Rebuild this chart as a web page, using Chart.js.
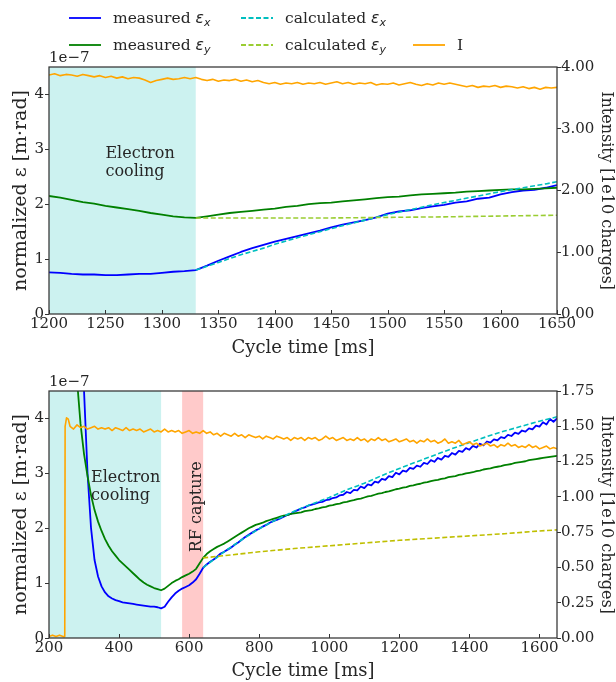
<!DOCTYPE html>
<html><head><meta charset="utf-8">
<script src="https://cdn.jsdelivr.net/npm/chart.js@4/dist/chart.umd.min.js"></script>
<style>
html,body{margin:0;padding:0;background:#fff;}
#wrap{position:relative;width:616px;height:682px;overflow:hidden;font-family:"DejaVu Serif",serif;color:#262626;}
#c1{position:absolute;left:0;top:0;}
#c2{position:absolute;left:0;top:360px;}
.lg{position:absolute;height:22px;display:flex;align-items:center;font-size:15.5px;white-space:nowrap;}
.lg svg{margin-right:12px;flex:none;}
.m{font-family:"DejaVu Sans",sans-serif;font-style:italic;}
.m sub{font-size:11px;line-height:0;vertical-align:-3px;}
</style>
</head><body>
<div id="wrap">
  <canvas id="c1" width="616" height="360"></canvas>
  <canvas id="c2" width="616" height="322"></canvas>
  <div id="legend"></div>
</div>
<script>
// ---------------- DATA ----------------
// Top panel (emittance in units of 1e-7 m·rad, intensity in 1e10 charges)
const topXTicks = [1200,1250,1300,1350,1400,1450,1500,1550,1600,1650];
const topXTickLabels = ['1200','1250','1300','1350','1400','1450','1500','1550','1600','1650'];
const topYTicks = [0,1,2,3,4];
const topYTickLabels = ['0','1','2','3','4'];
const topY2Ticks = [0,1,2,3,4];
const topY2TickLabels = ['0.00','1.00','2.00','3.00','4.00'];
const topCooling = [1200, 1330];

// measured, sampled every 10 ms from 1200 ms
const topMeasStart = 1200, topMeasStep = 10;
const topMeasX = [0.76,0.75,0.73,0.72,0.72,0.71,0.71,0.72,0.73,0.73,0.75,0.77,0.78,0.80,0.88,0.97,1.05,1.13,1.20,1.26,1.32,1.37,1.42,1.47,1.52,1.58,1.63,1.67,1.71,1.76,1.83,1.87,1.89,1.93,1.96,1.99,2.03,2.05,2.10,2.12,2.18,2.22,2.25,2.26,2.30,2.35];
const topMeasY = [2.15,2.12,2.08,2.04,2.01,1.97,1.94,1.91,1.88,1.84,1.81,1.78,1.76,1.75,1.78,1.81,1.84,1.86,1.88,1.90,1.92,1.95,1.97,2.00,2.02,2.03,2.05,2.07,2.09,2.11,2.13,2.14,2.16,2.18,2.19,2.20,2.21,2.23,2.24,2.25,2.26,2.27,2.27,2.28,2.29,2.30];
const topCalcXT = [1330,1340,1350,1360,1370,1380,1390,1400,1420,1440,1460,1480,1500,1520,1540,1560,1580,1600,1620,1640,1650];
const topCalcX  = [0.80,0.87,0.94,1.01,1.08,1.14,1.20,1.27,1.39,1.50,1.61,1.71,1.81,1.90,1.99,2.07,2.15,2.23,2.30,2.37,2.41];
const topCalcYT = [1330,1450,1550,1650];
const topCalcY  = [1.75,1.75,1.77,1.80];
// intensity, every 5 ms from 1200 ms
const topIStart = 1200, topIStep = 5;
const topI = [3.87,3.89,3.86,3.88,3.87,3.85,3.88,3.86,3.84,3.86,3.83,3.85,3.82,3.84,3.81,3.83,3.82,3.79,3.75,3.78,
  3.80,3.82,3.80,3.81,3.83,3.81,3.83,3.80,3.78,3.80,3.77,3.79,3.78,3.80,3.77,3.79,3.76,3.78,3.75,3.73,
  3.75,3.72,3.74,3.73,3.75,3.72,3.74,3.73,3.75,3.72,3.74,3.76,3.73,3.75,3.72,3.74,3.73,3.75,3.71,3.73,
  3.72,3.74,3.71,3.73,3.75,3.72,3.70,3.73,3.71,3.74,3.72,3.74,3.72,3.70,3.68,3.70,3.67,3.69,3.68,3.70,
  3.67,3.69,3.68,3.66,3.68,3.65,3.67,3.64,3.67,3.66,3.67];

// Bottom panel
const botXTicks = [200,400,600,800,1000,1200,1400,1600];
const botXTickLabels = ['200','400','600','800','1000','1200','1400','1600'];
const botYTicks = [0,1,2,3,4];
const botYTickLabels = ['0','1','2','3','4'];
const botY2Ticks = [0,0.25,0.5,0.75,1,1.25,1.5,1.75];
const botY2TickLabels = ['0.00','0.25','0.50','0.75','1.00','1.25','1.50','1.75'];
const botCooling = [200, 520];
const botRF = [580, 640];

const botMeasXStart = 290, botMeasStep = 10;
const botMeasX = [5.6,4.5,3.0,2.0,1.42,1.12,0.94,0.83,0.76,0.72,
  0.69,0.67,0.65,0.64,0.63,0.62,0.61,0.60,0.59,0.58,
  0.57,0.57,0.56,0.54,0.57,0.66,0.74,0.81,0.86,0.90,
  0.93,0.96,1.01,1.07,1.17,1.28,1.34,1.39,1.43,1.48,
  1.54,1.57,1.61,1.65,1.70,1.74,1.79,1.84,1.88,1.92,
  1.96,1.99,2.03,2.06,2.10,2.13,2.15,2.18,2.21,2.24,
  2.26,2.30,2.33,2.36,2.38,2.41,2.43,2.45,2.47,2.48,
  2.51,2.52,2.55,2.56,2.60,2.61,2.66,2.64,2.70,2.69,
  2.76,2.73,2.80,2.78,2.85,2.83,2.90,2.88,2.95,2.93,
  3.01,2.98,3.05,3.03,3.10,3.08,3.14,3.12,3.19,3.17,
  3.24,3.21,3.28,3.25,3.32,3.30,3.37,3.34,3.41,3.39,
  3.46,3.43,3.50,3.47,3.54,3.51,3.58,3.56,3.62,3.60,
  3.66,3.64,3.70,3.68,3.74,3.72,3.78,3.76,3.82,3.80,
  3.87,3.85,3.93,3.89,3.99,3.94,4.00];
const botMeasYStart = 280;
const botMeasY = [4.7,3.9,3.35,2.95,2.6,2.33,2.12,1.95,1.80,1.68,
  1.58,1.50,1.42,1.36,1.30,1.24,1.18,1.12,1.06,1.01,
  0.97,0.94,0.91,0.89,0.87,0.90,0.95,1.00,1.04,1.07,
  1.11,1.14,1.17,1.21,1.26,1.36,1.46,1.53,1.58,1.62,
  1.66,1.69,1.72,1.76,1.80,1.84,1.88,1.92,1.96,2.00,
  2.03,2.06,2.08,2.10,2.13,2.15,2.17,2.19,2.21,2.23,
  2.24,2.26,2.27,2.28,2.29,2.31,2.32,2.33,2.35,2.36,
  2.38,2.39,2.41,2.42,2.44,2.45,2.47,2.48,2.50,2.51,
  2.53,2.54,2.56,2.58,2.59,2.61,2.63,2.64,2.66,2.67,
  2.69,2.71,2.72,2.74,2.75,2.77,2.78,2.80,2.81,2.83,
  2.84,2.86,2.87,2.88,2.90,2.91,2.93,2.94,2.95,2.97,
  2.98,3.00,3.01,3.02,3.04,3.05,3.07,3.08,3.09,3.11,
  3.12,3.13,3.15,3.16,3.17,3.19,3.20,3.21,3.22,3.24,
  3.25,3.26,3.27,3.28,3.29,3.30,3.31,3.32];
const botCalcXT = [640,660,680,700,750,800,850,900,950,1000,1050,1100,1150,1200,1250,1300,1350,1400,1450,1500,1550,1600,1650];
const botCalcX  = [1.28,1.38,1.47,1.57,1.79,1.99,2.16,2.31,2.44,2.56,2.70,2.82,2.96,3.09,3.21,3.33,3.45,3.56,3.67,3.77,3.86,3.95,4.03];
const botCalcYT = [640,700,800,900,1000,1100,1200,1300,1400,1500,1600,1650];
const botCalcY  = [1.46,1.50,1.57,1.63,1.68,1.73,1.78,1.82,1.86,1.90,1.95,1.97];
const botIHeadT = [200,210,220,230,240,245,246,250,255];
const botIHead  = [0.01,0.02,0.01,0.02,0.01,0.01,1.50,1.56,1.55];
const botIStart = 260, botIStep = 10;
const botI = [1.50,1.48,1.51,1.49,1.50,1.48,1.49,1.50,1.48,1.49,
  1.48,1.49,1.47,1.49,1.48,1.47,1.49,1.47,1.48,1.47,
  1.48,1.46,1.47,1.48,1.46,1.47,1.46,1.48,1.46,1.47,
  1.46,1.47,1.45,1.46,1.47,1.45,1.46,1.45,1.47,1.45,
  1.46,1.44,1.45,1.43,1.45,1.44,1.43,1.45,1.43,1.44,
  1.42,1.44,1.43,1.42,1.43,1.41,1.43,1.42,1.41,1.43,
  1.42,1.41,1.42,1.40,1.42,1.41,1.42,1.40,1.42,1.41,
  1.42,1.40,1.41,1.43,1.41,1.42,1.40,1.41,1.42,1.40,
  1.41,1.40,1.42,1.40,1.41,1.39,1.41,1.40,1.42,1.40,
  1.41,1.39,1.40,1.41,1.39,1.40,1.41,1.39,1.40,1.38,
  1.40,1.39,1.41,1.39,1.40,1.38,1.39,1.41,1.38,1.39,
  1.38,1.40,1.37,1.38,1.39,1.37,1.38,1.36,1.37,1.38,
  1.36,1.37,1.35,1.37,1.36,1.38,1.36,1.37,1.35,1.36,
  1.35,1.37,1.35,1.36,1.34,1.35,1.36,1.34,1.35,1.34];

const legendNames = [['measured ','x'],['measured ','y'],['calculated ','x'],['calculated ','y'],['I',null]];

// ---------------- STYLE ----------------
const C = {mx:'#0000ff', my:'#008000', cx:'#00bfbf', cyTop:'#9acd32', cyBot:'#bfbf00', I:'#ffa500', text:'#262626', axis:'#333333'};
const FAM = '"DejaVu Serif", serif';
const TICKFONT = {family:FAM, size:15};

function timeGrid(start, step, n){ const a=[]; for(let i=0;i<n;i++) a.push(start+i*step); return a; }
function pts(xs, ys){ return ys.map((v,i)=>({x:xs[i], y:v})); }

// legend (HTML)
const lg = document.getElementById('legend');
const legendItems = [
  {name:legendNames[0], color:C.mx, dash:false, x:69, y:18},
  {name:legendNames[1], color:C.my, dash:false, x:69, y:45},
  {name:legendNames[2], color:C.cx, dash:true, x:241, y:18},
  {name:legendNames[3], color:C.cyTop, dash:true, x:241, y:45},
  {name:legendNames[4], color:C.I, dash:false, x:413, y:45}
];
legendItems.forEach(it=>{
  const d = document.createElement('div');
  d.className='lg'; d.style.left=it.x+'px'; d.style.top=(it.y-11)+'px';
  const da = it.dash ? ' stroke-dasharray="5,2.5"' : '';
  const label = it.name[1] ? it.name[0]+'<span class="m">ε<sub>'+it.name[1]+'</sub></span>' : it.name[0];
  d.innerHTML = '<svg width="32" height="6"><line x1="0" y1="3" x2="32" y2="3" stroke="'+it.color+'" stroke-width="1.8"'+da+'/></svg><span>'+label+'</span>';
  lg.appendChild(d);
});

const decor = {
  id:'decor',
  beforeDatasetsDraw(chart, args, o){
    const {ctx, chartArea:a} = chart; const x = chart.scales.x;
    ctx.save();
    o.regions.forEach(r=>{
      const x0 = x.getPixelForValue(r.range[0]), x1 = x.getPixelForValue(r.range[1]);
      ctx.fillStyle = r.color; ctx.fillRect(x0, a.top, x1-x0, a.bottom-a.top);
    });
    ctx.restore();
  },
  afterDraw(chart, args, o){
    const {ctx, chartArea:a} = chart; const x = chart.scales.x, y = chart.scales.y;
    ctx.save();
    ctx.strokeStyle = C.axis; ctx.lineWidth = 1.25;
    ctx.strokeRect(a.left, a.top, a.right-a.left, a.bottom-a.top);
    ctx.lineWidth = 1;
    x.ticks.forEach(t=>{
      const px = Math.round(x.getPixelForValue(t.value))+0.5;
      ctx.beginPath(); ctx.moveTo(px, a.bottom); ctx.lineTo(px, a.bottom-4); ctx.stroke();
    });
    ctx.fillStyle = C.text; ctx.font = '15px "DejaVu Serif"';
    ctx.textAlign='left'; ctx.textBaseline='middle';
    ctx.fillText('1e\u22127', a.left, a.top-9);
    ctx.font = '16px "DejaVu Serif"';
    o.texts.forEach(tx=>{
      const px = x.getPixelForValue(tx.t), py = y.getPixelForValue(tx.v);
      ctx.save();
      ctx.translate(px, py);
      if (tx.rot) { ctx.rotate(-Math.PI/2); ctx.textAlign='center'; }
      else ctx.textAlign='left';
      tx.lines.forEach((l,i)=> ctx.fillText(l, 0, i*18));
      ctx.restore();
    });
    ctx.restore();
  }
};

function makeChart(id, cfg){
  return new Chart(document.getElementById(id), {
    type:'line',
    data:{datasets:cfg.datasets},
    plugins:[decor],
    options:{
      responsive:false, animation:false, devicePixelRatio:1,
      layout:{padding:{top:cfg.padTop,left:0,right:0,bottom:0}},
      elements:{point:{radius:0}, line:{tension:0, borderJoinStyle:'round'}},
      plugins:{legend:{display:false}, tooltip:{enabled:false}, decor:{regions:cfg.regions, texts:cfg.texts}},
      scales:{
        x:{type:'linear', position:'bottom', min:cfg.xMin, max:cfg.xMax,
          afterBuildTicks:s=>{s.ticks = cfg.xTicks.map(v=>({value:v}));},
          afterFit:s=>{s.height = cfg.xHeight;},
          ticks:{font:TICKFONT, color:C.text, padding:1, maxRotation:0, autoSkip:false, callback:(v,i)=>cfg.xLabels[i]},
          grid:{display:true, drawOnChartArea:false, drawTicks:false},
          border:{display:false},
          title:{display:true, text:'Cycle time [ms]', font:{family:FAM, size:18}, color:C.text, padding:{top:0,bottom:cfg.xTitlePad}}
        },
        y:{type:'linear', position:'left', min:0, max:4.5,
          afterBuildTicks:s=>{s.ticks = cfg.yTicks.map(v=>({value:v}));},
          afterFit:s=>{s.width = 49;},
          ticks:{font:TICKFONT, color:C.text, padding:1, callback:(v,i)=>cfg.yLabels[i]},
          grid:{display:true, drawOnChartArea:false, drawTicks:true, tickLength:4, color:C.axis, lineWidth:1},
          border:{display:false},
          title:{display:true, text:'normalized ε [m·rad]', font:{family:FAM, size:19}, color:C.text, padding:{top:10,bottom:0}}
        },
        y2:{type:'linear', position:'right', min:0, max:cfg.y2Max,
          afterBuildTicks:s=>{s.ticks = cfg.y2Ticks.map(v=>({value:v}));},
          afterFit:s=>{s.width = 59;},
          ticks:{font:TICKFONT, color:C.text, padding:0, callback:(v,i)=>cfg.y2Labels[i]},
          grid:{display:true, drawOnChartArea:false, drawTicks:true, tickLength:4, color:C.axis, lineWidth:1},
          border:{display:false},
          title:{display:true, text:'Intensity [1e10 charges]', font:{family:FAM, size:16}, color:C.text, padding:{top:0,bottom:0}}
        }
      }
    }
  });
}

function ds(data, color, dashed, axis, w){
  return {data, borderColor:color, borderWidth:w||1.8, borderDash:dashed?[5,2.5]:[], yAxisID:axis||'y', fill:false, pointRadius:0};
}

makeChart('c1', {
  padTop:67, xHeight:46, xTitlePad:1, xMin:1200, xMax:1650, y2Max:4,
  xTicks:topXTicks, xLabels:topXTickLabels, yTicks:topYTicks, yLabels:topYTickLabels,
  y2Ticks:topY2Ticks, y2Labels:topY2TickLabels,
  regions:[{range:topCooling, color:'rgba(0,190,180,0.2)'}],
  texts:[{t:1250, v:2.92, lines:['Electron','cooling']}],
  datasets:[
    ds(pts(timeGrid(topIStart, topIStep, topI.length), topI), C.I, false, 'y2', 1.6),
    ds(pts(topCalcYT, topCalcY), C.cyTop, true, 'y', 1.6),
    ds(pts(topCalcXT, topCalcX), C.cx, true, 'y', 1.6),
    ds(pts(timeGrid(topMeasStart, topMeasStep, topMeasY.length), topMeasY), C.my, false),
    ds(pts(timeGrid(topMeasStart, topMeasStep, topMeasX.length), topMeasX), C.mx, false)
  ]
});

makeChart('c2', {
  padTop:31, xHeight:44, xTitlePad:0, xMin:200, xMax:1650, y2Max:1.75,
  xTicks:botXTicks, xLabels:botXTickLabels, yTicks:botYTicks, yLabels:botYTickLabels,
  y2Ticks:botY2Ticks, y2Labels:botY2TickLabels,
  regions:[{range:botCooling, color:'rgba(0,190,180,0.2)'},{range:botRF, color:'rgba(255,60,60,0.27)'}],
  texts:[{t:320, v:2.91, lines:['Electron','cooling']},{t:621, v:2.39, rot:true, lines:['RF capture']}],
  datasets:[
    ds(pts(botIHeadT.concat(timeGrid(botIStart, botIStep, botI.length)), botIHead.concat(botI)), C.I, false, 'y2', 1.6),
    ds(pts(botCalcYT, botCalcY), C.cyBot, true, 'y', 1.6),
    ds(pts(botCalcXT, botCalcX), C.cx, true, 'y', 1.6),
    ds(pts(timeGrid(botMeasYStart, botMeasStep, botMeasY.length), botMeasY), C.my, false),
    ds(pts(timeGrid(botMeasXStart, botMeasStep, botMeasX.length), botMeasX), C.mx, false)
  ]
});
</script>
</body></html>
